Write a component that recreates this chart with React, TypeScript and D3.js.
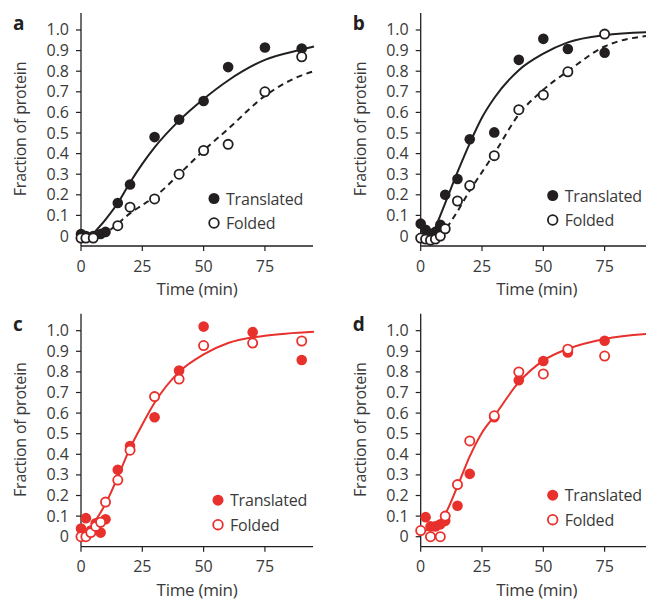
import React from 'react';
import * as d3 from 'd3';

// ---- data ----
const yTicks = [0, 0.1, 0.2, 0.3, 0.4, 0.5, 0.6, 0.7, 0.8, 0.9, 1.0];
const xTicks = [0, 25, 50, 75];
const seriesNames = ['Translated', 'Folded'];
const panelLetters = ['a', 'b', 'c', 'd'];

// panel a
const aTranslatedTime = [0, 2, 5, 8, 10, 15, 20, 30, 40, 50, 60, 75, 90];
const aTranslated = [0.01, 0, 0, 0.01, 0.02, 0.16, 0.25, 0.48, 0.565, 0.655, 0.82, 0.915, 0.91];
const aFoldedTime = [0, 2, 5, 15, 20, 30, 40, 50, 60, 75, 90];
const aFolded = [-0.01, -0.01, -0.01, 0.05, 0.14, 0.18, 0.3, 0.415, 0.445, 0.7, 0.87];
const aFitTranslatedTime = [4, 10, 15, 20, 25, 30, 40, 50, 60, 75, 90, 95];
const aFitTranslated = [0, 0.08, 0.16, 0.26, 0.35, 0.43, 0.56, 0.665, 0.755, 0.855, 0.905, 0.92];
const aFitFoldedTime = [12, 15, 20, 25, 30, 40, 50, 60, 75, 90, 95];
const aFitFolded = [0.03, 0.06, 0.11, 0.15, 0.19, 0.3, 0.415, 0.52, 0.68, 0.78, 0.8];

// panel b
const bTranslatedTime = [0, 2, 4, 6, 8, 10, 15, 20, 30, 40, 50, 60, 75];
const bTranslated = [0.06, 0.03, 0.01, 0.02, 0.055, 0.2, 0.277, 0.47, 0.503, 0.855, 0.957, 0.908, 0.89];
const bFoldedTime = [0, 2, 4, 6, 8, 10, 15, 20, 30, 40, 50, 60, 75];
const bFolded = [-0.01, -0.015, -0.02, -0.015, 0, 0.035, 0.17, 0.245, 0.39, 0.613, 0.685, 0.797, 0.98];
const bFitTranslatedTime = [5, 10, 15, 20, 25, 30, 40, 50, 60, 75, 95];
const bFitTranslated = [0.01, 0.16, 0.31, 0.45, 0.575, 0.67, 0.805, 0.885, 0.94, 0.975, 0.99];
const bFitFoldedTime = [8, 10, 15, 20, 25, 30, 40, 50, 60, 75, 95];
const bFitFolded = [0, 0.03, 0.12, 0.22, 0.31, 0.4, 0.59, 0.71, 0.8, 0.92, 0.975];

// panel c
const cTranslatedTime = [0, 2, 4, 6, 8, 10, 15, 20, 30, 40, 50, 70, 90];
const cTranslated = [0.04, 0.09, 0.03, 0.065, 0.02, 0.085, 0.325, 0.44, 0.58, 0.807, 1.02, 0.993, 0.858];
const cFoldedTime = [0, 2, 4, 6, 8, 10, 15, 20, 30, 40, 50, 70, 90];
const cFolded = [0, 0, 0.02, 0.05, 0.07, 0.168, 0.275, 0.42, 0.68, 0.765, 0.928, 0.94, 0.95];
const cFitTime = [0, 3, 6, 10, 15, 20, 25, 30, 40, 50, 60, 75, 95];
const cFit = [0, 0.03, 0.08, 0.16, 0.29, 0.43, 0.545, 0.65, 0.8, 0.885, 0.94, 0.975, 0.995];

// panel d
const dTranslatedTime = [2, 4, 6, 8, 10, 15, 20, 30, 40, 50, 60, 75];
const dTranslated = [0.095, 0.05, 0.05, 0.06, 0.077, 0.15, 0.305, 0.58, 0.76, 0.853, 0.894, 0.951];
const dFoldedTime = [0, 4, 8, 10, 15, 20, 30, 40, 50, 60, 75];
const dFolded = [0.03, 0, 0, 0.1, 0.253, 0.465, 0.587, 0.8, 0.79, 0.91, 0.877];
const dFitTime = [2, 6, 10, 15, 20, 25, 30, 40, 50, 60, 75, 95];
const dFit = [0.03, 0.05, 0.11, 0.245, 0.39, 0.505, 0.585, 0.75, 0.855, 0.912, 0.96, 0.987];

const zip = (t: number[], v: number[]) => t.map((x, i) => [x, v[i]] as [number, number]);

const BLACK = '#231f20';
const RED = '#e8302c';
const TEXT = '#3a3a3a';
const FONT = '"Open Sans", "Noto Sans", sans-serif';

const panels = [
  {
    dx: 0, dy: 0, color: BLACK,
    translated: zip(aTranslatedTime, aTranslated),
    folded: zip(aFoldedTime, aFolded),
    fits: [
      { pts: zip(aFitTranslatedTime, aFitTranslated), dash: null },
      { pts: zip(aFitFoldedTime, aFitFolded), dash: '6,4.5' },
    ],
    legend: { x: 214, y: 198.5 },
  },
  {
    dx: 339.7, dy: 0, color: BLACK,
    translated: zip(bTranslatedTime, bTranslated),
    folded: zip(bFoldedTime, bFolded),
    fits: [
      { pts: zip(bFitTranslatedTime, bFitTranslated), dash: null },
      { pts: zip(bFitFoldedTime, bFitFolded), dash: '6,4.5' },
    ],
    legend: { x: 213, y: 195.5 },
  },
  {
    dx: 0, dy: 300.7, color: RED,
    translated: zip(cTranslatedTime, cTranslated),
    folded: zip(cFoldedTime, cFolded),
    fits: [{ pts: zip(cFitTime, cFit), dash: null }],
    legend: { x: 218, y: 199.5 },
  },
  {
    dx: 339.7, dy: 300.7, color: RED,
    translated: zip(dTranslatedTime, dTranslated),
    folded: zip(dFoldedTime, dFolded),
    fits: [{ pts: zip(dFitTime, dFit), dash: null }],
    legend: { x: 213, y: 194.5 },
  },
];

const x = d3.scaleLinear().domain([0, 94.6]).range([81, 313]);
const y = d3.scaleLinear().domain([-0.0485, 1.0825]).range([246, 13]);
const line = d3.line<[number, number]>()
  .x(d => x(d[0]))
  .y(d => y(d[1]))
  .curve(d3.curveMonotoneX);

const fmt = (v: number) => (v === 0 ? '0' : v.toFixed(1));

const Panel = ({ p, letter }: { p: typeof panels[number]; letter: string }) => {
  const y0 = y.range()[0];
  return (
    <g transform={`translate(${p.dx},${p.dy})`}>
      <text x={13} y={30} fontSize={19} fontWeight="bold" fill={BLACK} fontFamily={FONT}>{letter}</text>
      {/* y axis */}
      <line x1={x(0)} x2={x(0)} y1={13} y2={y0} stroke={BLACK} strokeWidth={1.3} />
      {yTicks.map(t => (
        <g key={t}>
          <line x1={x(0) - 5} x2={x(0)} y1={y(t)} y2={y(t)} stroke={BLACK} strokeWidth={1.2} />
          <text x={69} y={y(t) + 5.5} textAnchor="end" fontSize={16} fill={TEXT} fontFamily={FONT}>{fmt(t)}</text>
        </g>
      ))}
      {/* x axis */}
      <line x1={x(0)} x2={x.range()[1]} y1={y0} y2={y0} stroke={BLACK} strokeWidth={1.3} />
      {xTicks.map(t => (
        <g key={t}>
          <line x1={x(t)} x2={x(t)} y1={y0} y2={y0 + 5} stroke={BLACK} strokeWidth={1.2} />
          <text x={x(t)} y={271.5} textAnchor="middle" fontSize={16} fill={TEXT} fontFamily={FONT}>{t}</text>
        </g>
      ))}
      <text x={197} y={295} textAnchor="middle" fontSize={17} fill={TEXT} fontFamily={FONT} letterSpacing={-0.3}>Time (min)</text>
      <text transform="translate(26,129) rotate(-90)" textAnchor="middle" fontSize={16} fill={TEXT} fontFamily={FONT} letterSpacing={-0.2}>Fraction of protein</text>
      {/* fitted curves */}
      {p.fits.map((f, i) => (
        <path key={i} d={line(f.pts) || ''} fill="none" stroke={p.color} strokeWidth={2}
          strokeDasharray={f.dash || undefined} />
      ))}
      {/* points */}
      {p.translated.map((d, i) => (
        <circle key={'t' + i} cx={x(d[0])} cy={y(d[1])} r={5.3} fill={p.color} />
      ))}
      {p.folded.map((d, i) => (
        <circle key={'f' + i} cx={x(d[0])} cy={y(d[1])} r={4.6} fill="#fff" stroke={p.color} strokeWidth={1.8} />
      ))}
      {/* legend */}
      <circle cx={p.legend.x} cy={p.legend.y} r={5.5} fill={p.color} />
      <text x={p.legend.x + 12} y={p.legend.y + 6} fontSize={16} fill={TEXT} fontFamily={FONT} letterSpacing={-0.2}>{seriesNames[0]}</text>
      <circle cx={p.legend.x} cy={p.legend.y + 24.5} r={4.8} fill="#fff" stroke={p.color} strokeWidth={1.8} />
      <text x={p.legend.x + 12} y={p.legend.y + 30.5} fontSize={16} fill={TEXT} fontFamily={FONT} letterSpacing={-0.2}>{seriesNames[1]}</text>
    </g>
  );
};

export default function App() {
  return (
    <svg width={646} height={600} style={{ position: 'absolute', left: 0, top: 0, background: '#fff' }}>
      {panels.map((p, i) => (
        <Panel key={i} p={p} letter={panelLetters[i]} />
      ))}
    </svg>
  );
}
